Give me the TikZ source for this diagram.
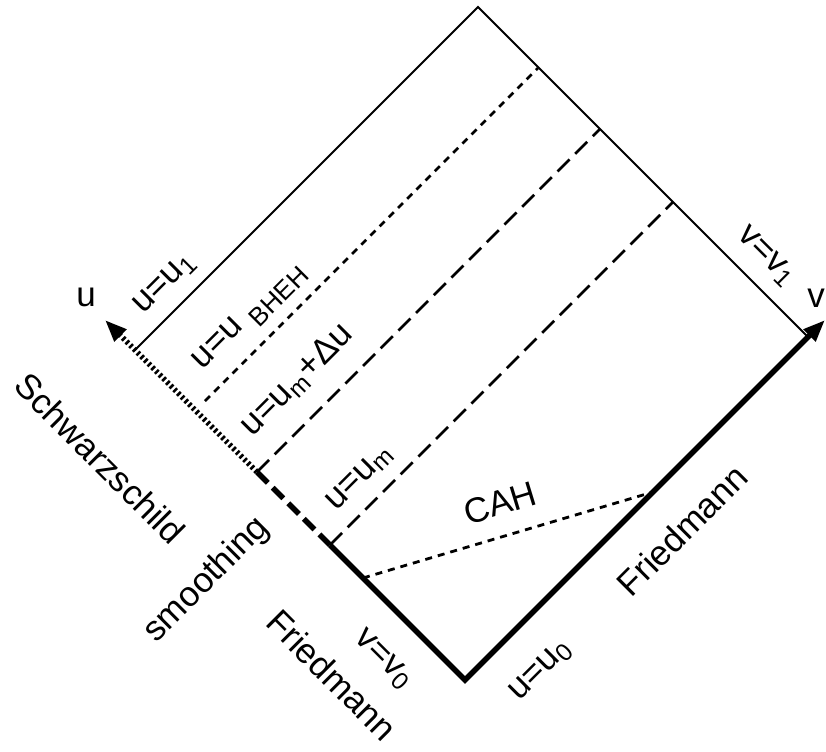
\documentclass[tikz,border=0pt]{standalone}
\usepackage{fontspec}
\setmainfont{Liberation Sans}
\usetikzlibrary{arrows.meta}

\begin{document}
\begin{tikzpicture}[x=0.5pt,y=-0.5pt,
    lbl/.style={font=\fontsize{17.5}{20}\selectfont, inner sep=0pt},
    thinedge/.style={line width=1pt},
    thickedge/.style={line width=2.7pt},
    longdash/.style={line width=1.4pt, dash pattern=on 8.5pt off 4pt},
    shortdash/.style={line width=1.4pt, dash pattern=on 3.5pt off 3pt},
    tip/.style={-{Triangle[length=11pt,width=8pt]}}]
    \useasboundingbox (0,0) rectangle (826,751);

    \coordinate (B) at (465,680);
    \coordinate (L) at (135,350);
    \coordinate (T) at (478,7);
    \coordinate (R) at (808,337);
    \coordinate (smA) at (330,545);
    \coordinate (smB) at (257,472);
    \coordinate (utip) at (105,320);
    \coordinate (vtip) at (825,320);
    \coordinate (umEnd) at (673,202);
    \coordinate (umdEnd) at (600,129);
    \coordinate (bhStart) at (205,401);
    \coordinate (bhEnd) at (538,68);
    \coordinate (cahStart) at (363,578);
    \coordinate (cahEnd) at (653,492);

    \draw[thinedge] (L) -- (T) -- (R);
    \draw[thickedge, tip] (smA) -- (B) -- (vtip);
    \draw[thickedge, dash pattern=on 7.5pt off 3.5pt] (smA) -- (smB);
    \draw[thickedge, dash pattern=on 1.3pt off 1.3pt, tip] (smB) -- (utip);

    \draw[longdash] (smA) -- (umEnd);
    \draw[longdash] (smB) -- (umdEnd);
    \draw[shortdash] (bhStart) -- (bhEnd);
    \draw[shortdash] (cahStart) -- (cahEnd);

    \node[lbl] (ulabel) at (86,297) {u};
    \node[lbl] (vlabel) at (816,298) {v};
    \node[lbl, rotate=45] (uone) at (165,284) {u=u\textsubscript{1}};
    \node[lbl, rotate=45] (ubheh) at (250,317) {u=u\hspace{0.3em}\raisebox{-0.3em}{\fontsize{13}{15}\selectfont BHEH}};
    \node[lbl, rotate=45] (umdu) at (297,380) {u=u\textsubscript{m}+Δu};
    \node[lbl, rotate=45] (um) at (360,478) {u=u\textsubscript{m}};
    \node[lbl, rotate=17] (cah) at (500,503) {CAH};
    \node[lbl, rotate=45] (friedR) at (682,530) {Friedmann};
    \node[lbl, rotate=45] (uzero) at (541,671) {u=u\textsubscript{0}};
    \node[lbl, rotate=-45] (vzero) at (383,660) {v=v\textsubscript{0}};
    \node[lbl, rotate=-45] (friedL) at (332,675) {Friedmann};
    \node[lbl, rotate=45] (smooth) at (207,580) {smoothing};
    \node[lbl, rotate=-45] (schw) at (100,458) {Schwarzschild};
    \node[lbl, rotate=-45] (vone) at (766,257) {v=v\textsubscript{1}};
\end{tikzpicture}
\end{document}
